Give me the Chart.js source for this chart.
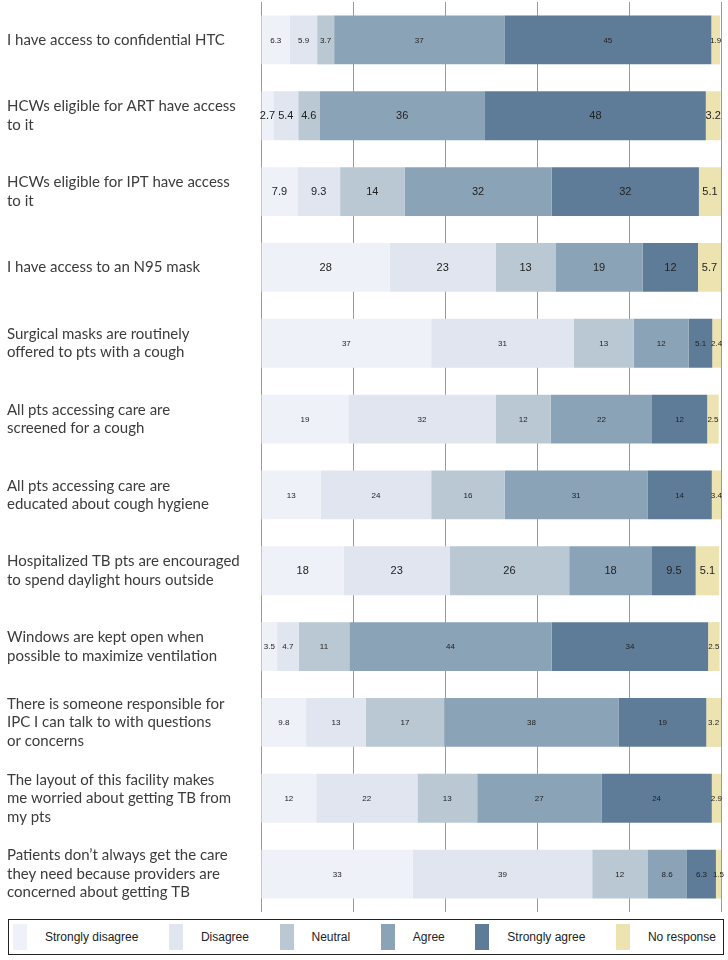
<!DOCTYPE html>
<html>
<head>
<meta charset="utf-8">
<script src="https://cdn.jsdelivr.net/npm/chart.js@4.4.1/dist/chart.umd.min.js"></script>
<style>
    body { margin: 0; background: #fff; }
    #wrap { position: relative; width: 728px; height: 960px; }
    #legendBox {
        position: absolute; left: 8px; top: 919px; width: 703px; height: 34px;
        border: 1px solid #222; display: flex; align-items: center;
        justify-content: space-between; padding: 0 7px 0 4px; box-sizing: content-box;
        font-family: 'Liberation Sans', Arial, sans-serif; font-size: 12px; color: #222;
    }
    #legendBox .item { display: flex; align-items: center; }
    #legendBox .sw { width: 14px; height: 26px; margin-right: 18px; }
</style>
</head>
<body>
<div id="wrap">
    <canvas id="likert" width="728" height="912"></canvas>
    <div id="legendBox"></div>
</div>
<script>
// survey statements (wrapped as shown on the axis)
const statements = [
    ['I have access to confidential HTC'],
    ['HCWs eligible for ART have access', 'to it'],
    ['HCWs eligible for IPT have access', 'to it'],
    ['I have access to an N95 mask'],
    ['Surgical masks are routinely', 'offered to pts with a cough'],
    ['All pts accessing care are', 'screened for a cough'],
    ['All pts accessing care are', 'educated about cough hygiene'],
    ['Hospitalized TB pts are encouraged', 'to spend daylight hours outside'],
    ['Windows are kept open when', 'possible to maximize ventilation'],
    ['There is someone responsible for', 'IPC I can talk to with questions', 'or concerns'],
    ['The layout of this facility makes', 'me worried about getting TB from', 'my pts'],
    ['Patients don\u2019t always get the care', 'they need because providers are', 'concerned about getting TB']
];

// percentages per response
const stronglyDisagree = [6.3, 2.7, 7.9, 28, 37, 19, 13, 18, 3.5, 9.8, 12, 33];
const disagree         = [5.9, 5.4, 9.3, 23, 31, 32, 24, 23, 4.7, 13, 22, 39];
const neutral          = [3.7, 4.6, 14, 13, 13, 12, 16, 26, 11, 17, 13, 12];
const agree            = [37, 36, 32, 19, 12, 22, 31, 18, 44, 38, 27, 8.6];
const stronglyAgree    = [45, 48, 32, 12, 5.1, 12, 14, 9.5, 34, 19, 24, 6.3];
const noResponse       = [1.9, 3.2, 5.1, 5.7, 2.4, 2.5, 3.4, 5.1, 2.5, 3.2, 2.9, 1.5];

const responseNames = ['Strongly disagree', 'Disagree', 'Neutral', 'Agree', 'Strongly agree', 'No response'];
const responseValues = [stronglyDisagree, disagree, neutral, agree, stronglyAgree, noResponse];
const responseColors = ['#eef1f7', '#e0e5ef', '#b9c8d3', '#8ba3b7', '#5e7c98', '#ede3b0'];

// rows whose value labels were printed larger in the original
const bigLabelRows = [1, 2, 3, 7];

// draw the number in the middle of every segment
const segmentLabels = {
    id: 'segmentLabels',
    afterDatasetsDraw(chart) {
        const ctx = chart.ctx;
        ctx.save();
        ctx.fillStyle = '#222';
        ctx.textAlign = 'center';
        ctx.textBaseline = 'middle';
        chart.data.datasets.forEach(function (ds, di) {
            const meta = chart.getDatasetMeta(di);
            meta.data.forEach(function (bar, i) {
                const right = Math.min(bar.x, chart.chartArea.right);
                const cx = (right + bar.base) / 2;
                const size = bigLabelRows.includes(i) ? 11 : 8;
                ctx.font = size + "px 'Liberation Sans', Arial, sans-serif";
                ctx.fillText(String(ds.data[i]), cx, bar.y + 0.5);
            });
        });
        ctx.restore();
    }
};

const ctx = document.getElementById('likert').getContext('2d');
const likertChart = new Chart(ctx, {
    type: 'bar',
    data: {
        labels: statements,
        datasets: responseNames.map(function (name, k) {
            return {
                label: name,
                data: responseValues[k],
                backgroundColor: responseColors[k],
                borderWidth: 0,
                categoryPercentage: 1,
                barPercentage: 0.645
            };
        })
    },
    options: {
        indexAxis: 'y',
        responsive: false,
        animation: false,
        devicePixelRatio: 1,
        layout: { padding: { left: 7, right: 7, top: 2, bottom: 0 } },
        plugins: {
            legend: { display: false },
            tooltip: { enabled: false }
        },
        scales: {
            x: {
                stacked: true,
                min: 0,
                max: 100,
                ticks: { display: false, stepSize: 20 },
                grid: { color: '#9a9a9a', lineWidth: 1, drawTicks: false },
                border: { display: false }
            },
            y: {
                stacked: true,
                grid: { display: false },
                border: { display: false },
                ticks: {
                    autoSkip: false,
                    crossAlign: 'far',
                    color: '#3c3c3c',
                    font: { family: 'Lato', size: 15, lineHeight: 1.23 }
                },
                afterFit: function (scale) {
                    scale.width = 254; // plot starts at x = 261
                    // labels may overhang the plot, so no extra top/bottom room
                    scale.paddingTop = 0;
                    scale.paddingBottom = 0;
                }
            }
        }
    },
    plugins: [segmentLabels]
});

// legend in a framed box under the plot
const legendBox = document.getElementById('legendBox');
responseNames.forEach(function (name, k) {
    const item = document.createElement('div');
    item.className = 'item';
    const sw = document.createElement('span');
    sw.className = 'sw';
    sw.style.background = responseColors[k];
    const txt = document.createElement('span');
    txt.textContent = name;
    item.appendChild(sw);
    item.appendChild(txt);
    legendBox.appendChild(item);
});
</script>
</body>
</html>
